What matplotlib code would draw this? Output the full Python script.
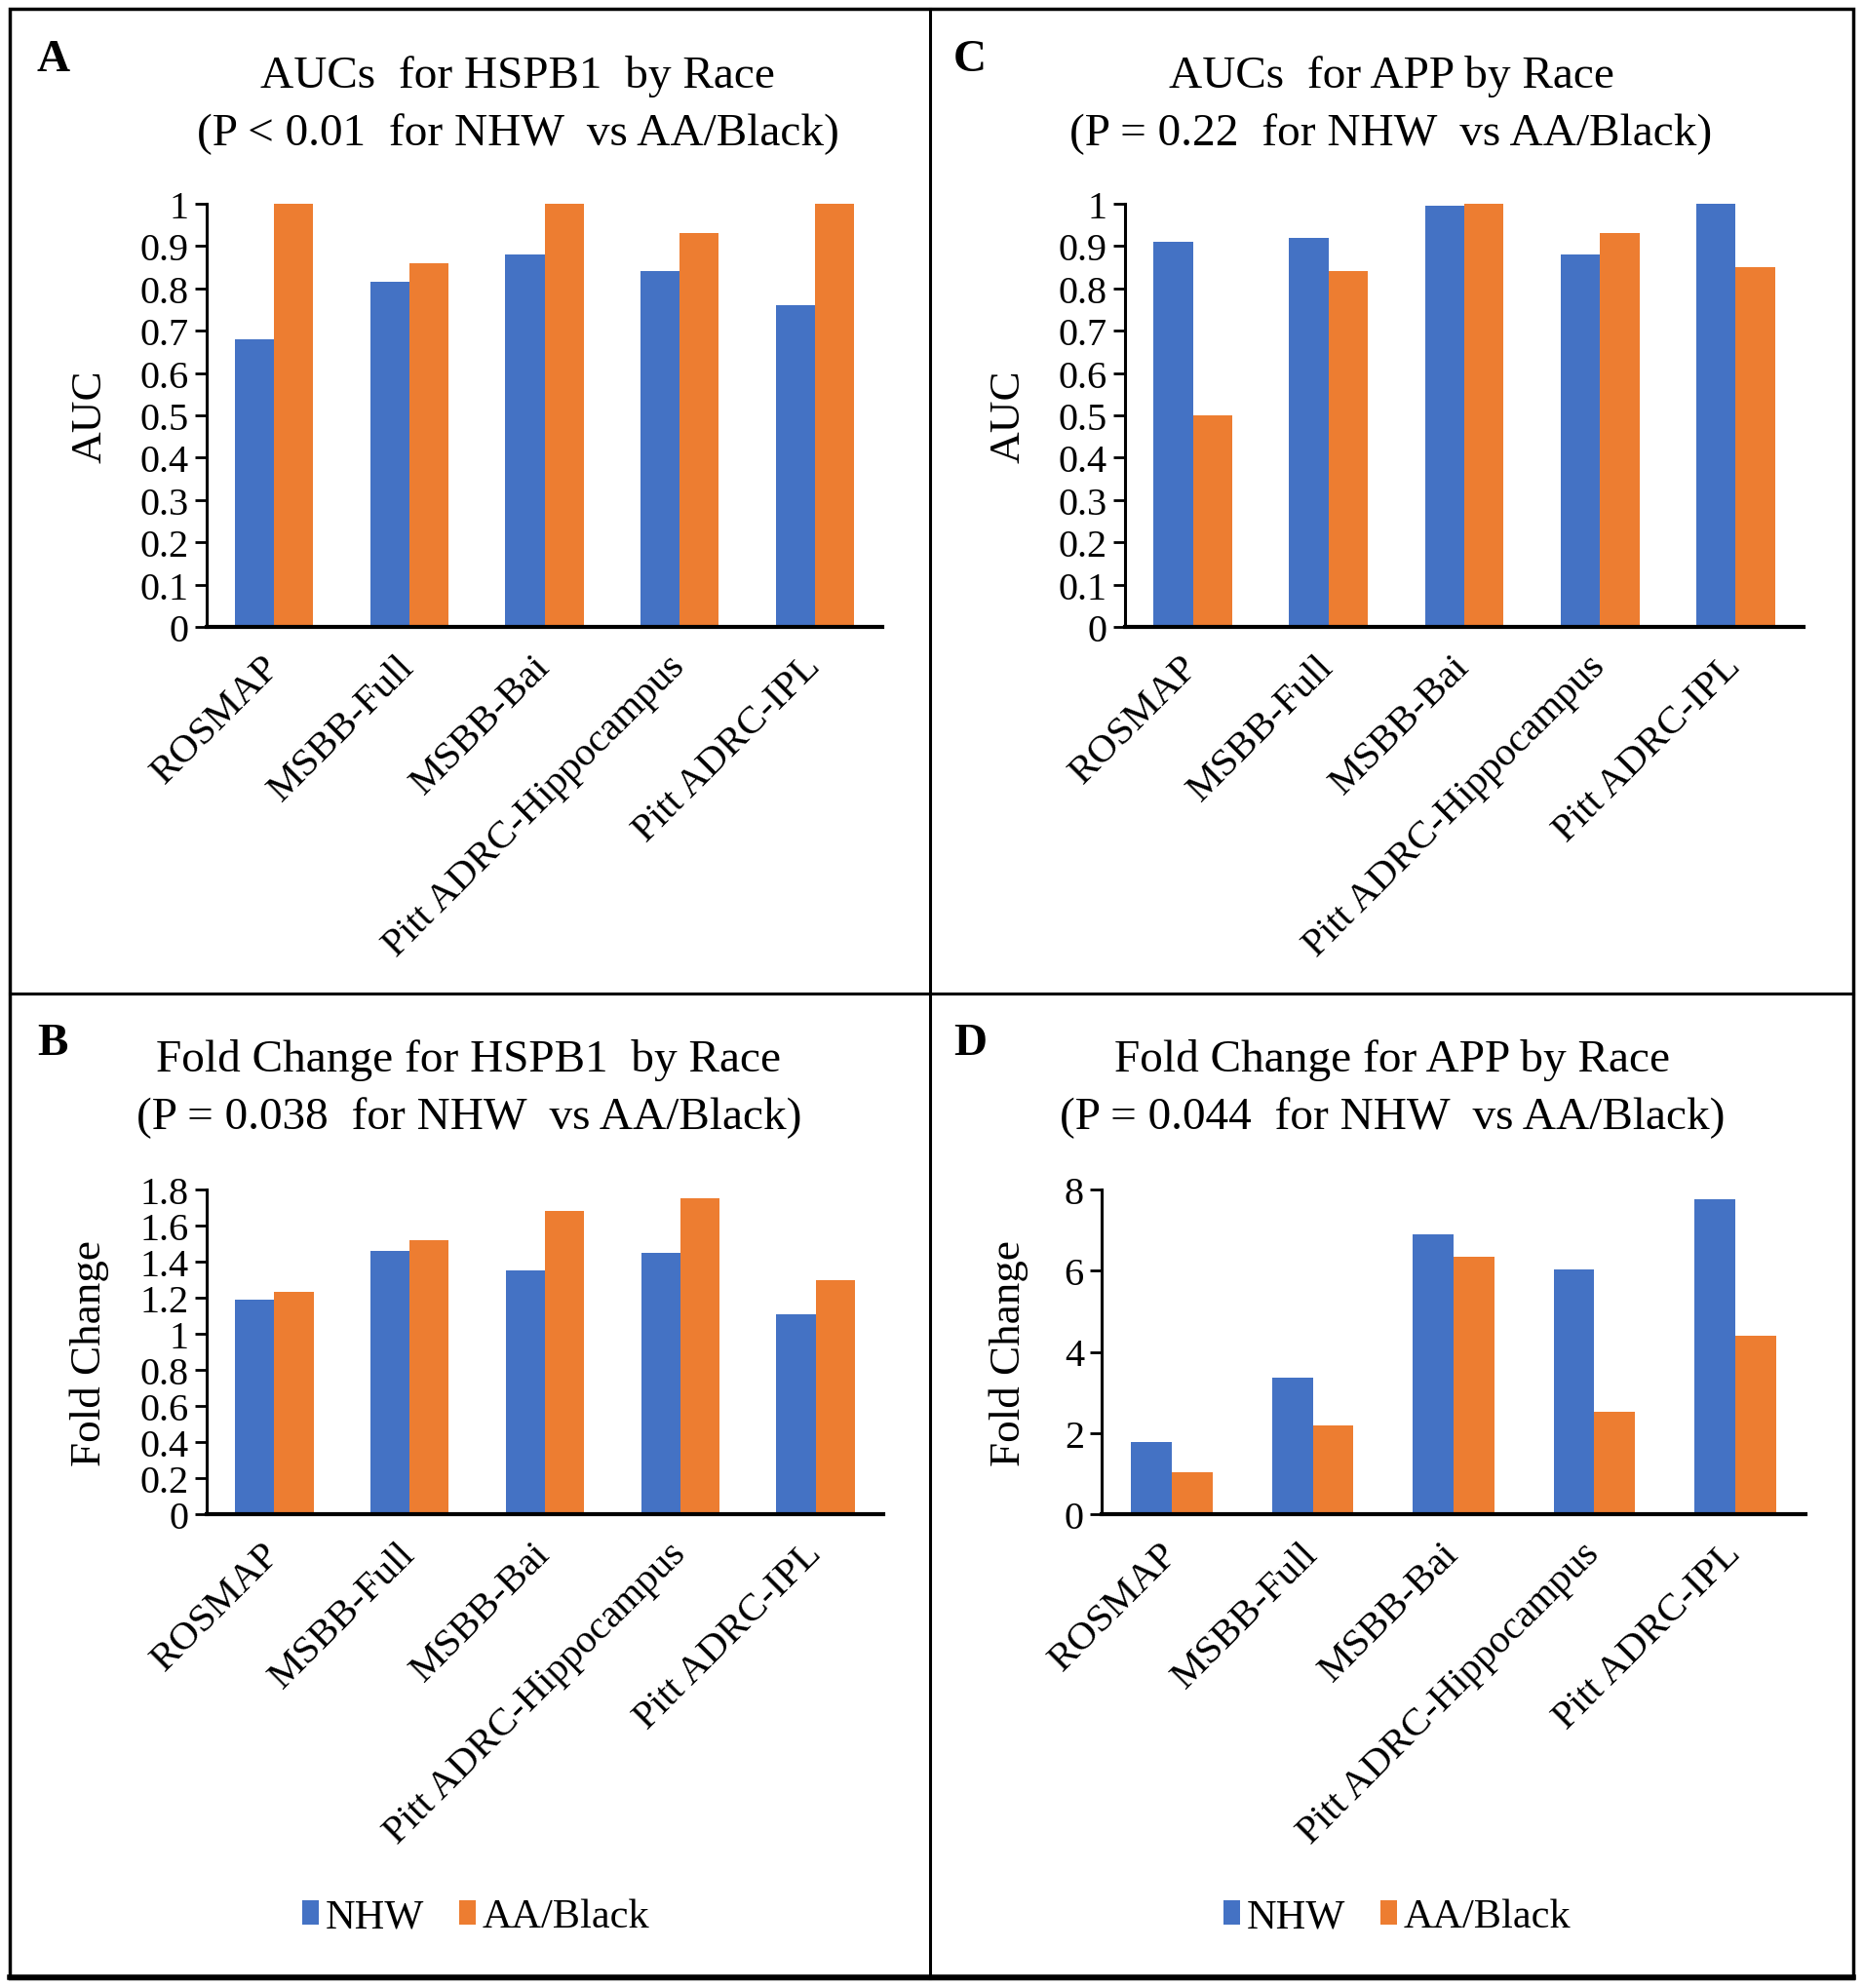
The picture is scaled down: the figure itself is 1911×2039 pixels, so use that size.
import matplotlib
matplotlib.use("Agg")
import matplotlib.pyplot as plt
from matplotlib.patches import Rectangle, Patch
from matplotlib.lines import Line2D
from matplotlib.ticker import FuncFormatter
from matplotlib.transforms import ScaledTranslation
import numpy as np

plt.rcParams['font.family'] = ['Liberation Serif', 'DejaVu Serif']

categories = ["ROSMAP", "MSBB-Full", "MSBB-Bai", "Pitt ADRC-Hippocampus", "Pitt ADRC-IPL"]
series_names = ["NHW", "AA/Black"]

auc_hspb1_nhw = [0.68, 0.815, 0.88, 0.84, 0.76]
auc_hspb1_aa = [1.00, 0.86, 1.00, 0.93, 1.00]

auc_app_nhw = [0.91, 0.92, 0.995, 0.88, 1.00]
auc_app_aa = [0.50, 0.84, 1.00, 0.93, 0.85]

fc_hspb1_nhw = [1.19, 1.46, 1.35, 1.45, 1.11]
fc_hspb1_aa = [1.23, 1.52, 1.68, 1.75, 1.30]

fc_app_nhw = [1.77, 3.36, 6.90, 6.02, 7.77]
fc_app_aa = [1.04, 2.18, 6.34, 2.53, 4.40]

titles = {
    "A": ("AUCs  for HSPB1  by Race", "(P < 0.01  for NHW  vs AA/Black)"),
    "C": ("AUCs  for APP by Race", "(P = 0.22  for NHW  vs AA/Black)"),
    "B": ("Fold Change for HSPB1  by Race", "(P = 0.038  for NHW  vs AA/Black)"),
    "D": ("Fold Change for APP by Race", "(P = 0.044  for NHW  vs AA/Black)"),
}

BLUE = "#4472C4"
ORANGE = "#ED7D31"

W, H = 1911, 2040
fig = plt.figure(figsize=(W / 100, H / 100), dpi=100)


def ax_px(l, t, r, b):
    return fig.add_axes([l / W, 1 - b / H, (r - l) / W, (b - t) / H])


def fx(x):
    return x / W


def fy(y):
    return 1 - y / H


def draw_panel(box, nhw, aa, ymax, ystep, ylabel, ylabel_x):
    ax = ax_px(*box)
    x = np.arange(len(categories))
    w = 0.29
    ax.bar(x - w / 2, nhw, width=w, color=BLUE, zorder=2)
    ax.bar(x + w / 2, aa, width=w, color=ORANGE, zorder=2)
    ax.set_xlim(-0.5, len(categories) - 0.5)
    ax.set_ylim(0, ymax)
    ax.set_yticks(np.round(np.arange(0, ymax + ystep / 2, ystep), 6))
    ax.yaxis.set_major_formatter(FuncFormatter(lambda v, p: f"{v:g}"))
    ax.set_xticks(x)
    ax.set_xticklabels(categories, rotation=45, ha="right", va="center",
                       rotation_mode="anchor", fontsize=29.5)
    shift = ScaledTranslation(8 / 100, 0, fig.dpi_scale_trans)
    for lab in ax.get_xticklabels():
        lab.set_transform(lab.get_transform() + shift)
    ax.tick_params(axis="x", length=0, pad=25)
    ax.tick_params(axis="y", labelsize=29, length=9, width=2, pad=4)
    for s in ["top", "right"]:
        ax.spines[s].set_visible(False)
    ax.spines["left"].set_linewidth(2.2)
    ax.spines["bottom"].set_linewidth(3)
    # y label
    l, t, r, b = box
    fig.text(fx(ylabel_x), fy((t + b) / 2), ylabel, rotation=90, ha="center",
             va="center", fontsize=32.5)
    return ax


# Panel boxes (left, top, right, bottom) in pixels
axA = draw_panel((212, 210, 905, 644), auc_hspb1_nhw, auc_hspb1_aa, 1.0, 0.1, "AUC", 92)
axC = draw_panel((1154, 210, 1850, 644), auc_app_nhw, auc_app_aa, 1.0, 0.1, "AUC", 1035)
axB = draw_panel((212, 1221, 906, 1554), fc_hspb1_nhw, fc_hspb1_aa, 1.8, 0.2, "Fold Change", 92)
axD = draw_panel((1130, 1221, 1852, 1554), fc_app_nhw, fc_app_aa, 8, 2, "Fold Change", 1035)

# Titles
title_pos = {"A": (531, 90, 149), "C": (1427, 90, 149),
             "B": (481, 1099, 1158), "D": (1428, 1099, 1158)}
for k, (cx, y1, y2) in title_pos.items():
    t1, t2 = titles[k]
    fig.text(fx(cx), fy(y1), t1, ha="center", va="baseline", fontsize=34)
    fig.text(fx(cx), fy(y2), t2, ha="center", va="baseline", fontsize=34)

# Panel letters
letters = {"A": (38, 73), "C": (978, 73), "B": (38, 1082), "D": (978, 1082)}
for k, (x0, yb) in letters.items():
    fig.text(fx(x0), fy(yb), k, ha="left", va="baseline", fontsize=34, fontweight="bold")

# Legends
handles = [Patch(facecolor=BLUE, edgecolor="none"), Patch(facecolor=ORANGE, edgecolor="none")]
for ax, cx in [(axB, 488), (axD, 1433)]:
    ax.legend(handles, series_names, loc="center", bbox_to_anchor=(fx(cx), fy(1967)),
              bbox_transform=fig.transFigure, ncol=2, frameon=False, fontsize=30.5,
              handlelength=0.4, handleheight=0.55, handletextpad=0.15, columnspacing=0.85)

# Borders
fig.add_artist(Rectangle((fx(10), fy(2030)), fx(1891), (2020) / H, transform=fig.transFigure,
                         fill=False, edgecolor="black", linewidth=2.5))
fig.add_artist(Line2D([fx(10), fx(1901)], [fy(2029), fy(2029)], transform=fig.transFigure,
                      color="black", linewidth=4))
fig.add_artist(Line2D([fx(954), fx(954)], [fy(10), fy(2030)], transform=fig.transFigure,
                      color="black", linewidth=2.2))
fig.add_artist(Line2D([fx(10), fx(1901)], [fy(1020), fy(1020)], transform=fig.transFigure,
                      color="black", linewidth=2.2))

fig.savefig("out.png", dpi=100, facecolor="white")
